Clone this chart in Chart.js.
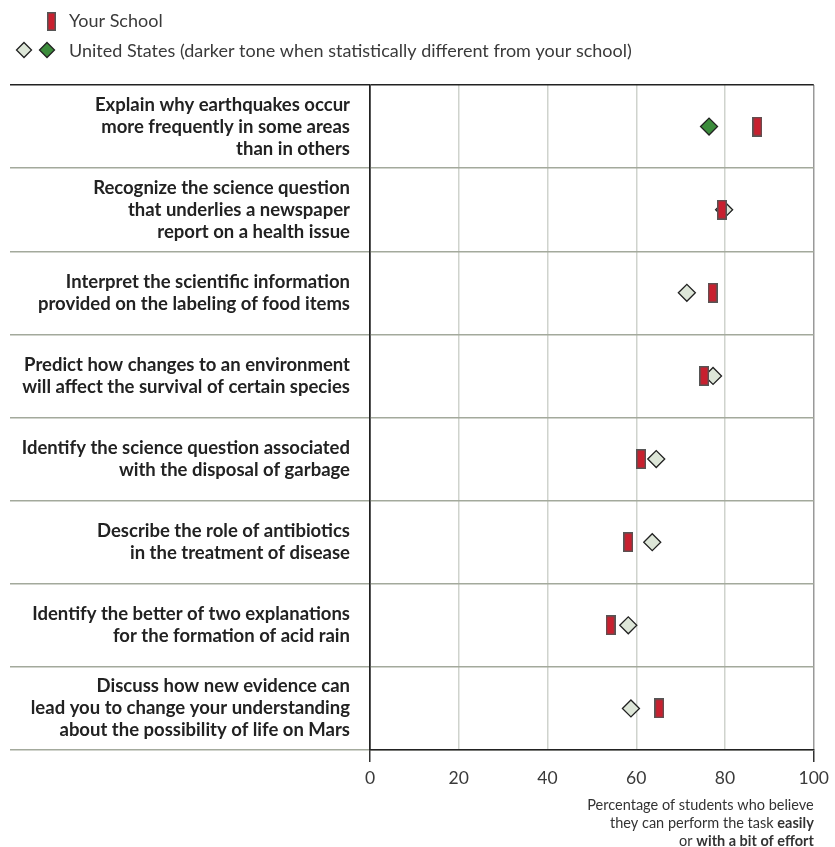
<!DOCTYPE html>
<html>
<head>
<meta charset="utf-8">
<script src="https://cdn.jsdelivr.net/npm/chart.js@4"></script>
<style>
  html, body { margin: 0; padding: 0; background: #fff; }
  #wrap { width: 835px; height: 847px; position: relative; }
</style>
</head>
<body>
<div id="wrap"><canvas id="chart"></canvas></div>
<script>
var tasks = [
    ["Explain why earthquakes occur", "more frequently in some areas", "than in others"],
    ["Recognize the science question", "that underlies a newspaper", "report on a health issue"],
    ["Interpret the scientific information", "provided on the labeling of food items"],
    ["Predict how changes to an environment", "will affect the survival of certain species"],
    ["Identify the science question associated", "with the disposal of garbage"],
    ["Describe the role of antibiotics", "in the treatment of disease"],
    ["Identify the better of two explanations", "for the formation of acid rain"],
    ["Discuss how new evidence can", "lead you to change your understanding", "about the possibility of life on Mars"]
];
var schoolValues = [87.3, 79.3, 77.2, 75.3, 61.1, 58.2, 54.2, 65.2];
var usValues = [76.4, 79.8, 71.4, 77.3, 64.5, 63.6, 58.2, 58.8];
var usDifferent = [true, false, false, false, false, false, false, false];
var xTicks = [0, 20, 40, 60, 80, 100];

var FONT = "Lato, 'Open Sans', sans-serif";
var RED = "#c8202f";
var LIGHT = "#dde6d8";
var DARK = "#3c8c3c";

// tall red bar used as the school marker
function makeBar() {
    var c = document.createElement('canvas');
    c.width = 10; c.height = 20;
    var g = c.getContext('2d');
    g.fillStyle = "#555";
    g.fillRect(0, 0, 10, 20);
    g.fillStyle = RED;
    g.fillRect(1.5, 1.5, 7, 17);
    return c;
}
var barImg = makeBar();

var labelKeys = tasks.map(function(t, i) { return 'c' + i; });

var schoolData = schoolValues.map(function(v, i) { return {x: v, y: labelKeys[i]}; });
var usData = usValues.map(function(v, i) { return {x: v, y: labelKeys[i]}; });

function diamond(ctx, x, y, r, fill) {
    ctx.beginPath();
    ctx.moveTo(x, y - r);
    ctx.lineTo(x + r, y);
    ctx.lineTo(x, y + r);
    ctx.lineTo(x - r, y);
    ctx.closePath();
    ctx.fillStyle = fill;
    ctx.fill();
    ctx.lineWidth = 1.3;
    ctx.strokeStyle = "#222";
    ctx.stroke();
}

var extras = {
    id: 'extras',
    afterDraw: function(chart) {
        var ctx = chart.ctx;
        ctx.save();
        // legend
        ctx.fillStyle = "#555";
        ctx.fillRect(47, 12, 9, 19);
        ctx.fillStyle = RED;
        ctx.fillRect(48.5, 13.5, 6, 16);
        diamond(ctx, 24, 50, 7.5, LIGHT);
        diamond(ctx, 47, 50, 7.5, DARK);
        ctx.fillStyle = "#3a3a3a";
        ctx.font = "18px " + FONT;
        ctx.textBaseline = "middle";
        ctx.textAlign = "left";
        ctx.fillText("Your School", 69, 21);
        ctx.fillText("United States (darker tone when statistically different from your school)", 69, 51);

        // axis title, right aligned with bold parts
        var right = chart.chartArea.right;
        var lines = [
            [["Percentage of students who believe", false]],
            [["they can perform the task ", false], ["easily", true]],
            [["or ", false], ["with a bit of effort", true]]
        ];
        ctx.textAlign = "left";
        lines.forEach(function(parts, li) {
            var y = 805 + li * 18;
            var w = 0;
            parts.forEach(function(p) {
                ctx.font = (p[1] ? "bold " : "") + "14.5px " + FONT;
                w += ctx.measureText(p[0]).width;
            });
            var x = right - w;
            parts.forEach(function(p) {
                ctx.font = (p[1] ? "bold " : "") + "14.5px " + FONT;
                ctx.fillStyle = "#333";
                ctx.fillText(p[0], x, y);
                x += ctx.measureText(p[0]).width;
            });
        });
        ctx.restore();
    }
};

var ctx = document.getElementById('chart').getContext('2d');
var chart = new Chart(ctx, {
    type: 'scatter',
    data: {
        datasets: [{
            label: 'Your School',
            data: schoolData,
            pointStyle: barImg,
            pointRadius: 10,
            pointHoverRadius: 10
        }, {
            label: 'United States',
            data: usData,
            pointStyle: 'rectRot',
            pointRadius: 8.5,
            pointHoverRadius: 8.5,
            borderWidth: 1.3,
            borderColor: "#222",
            backgroundColor: usDifferent.map(function(d) { return d ? DARK : LIGHT; })
        }]
    },
    options: {
        responsive: true,
        maintainAspectRatio: false,
        animation: false,
        layout: { padding: { top: 85, left: 10, right: 19, bottom: 0 } },
        plugins: {
            legend: { display: false },
            tooltip: { enabled: false }
        },
        scales: {
            x: {
                type: 'linear',
                min: 0,
                max: 100,
                afterBuildTicks: function(scale) {
                    scale.ticks = xTicks.map(function(v) { return {value: v}; });
                },
                grid: {
                    color: function(c) {
                        if (c.tick && c.tick.value === 0) return "#222";
                        if (c.tick && c.tick.value === 100) return "#999";
                        return "#cfd3cd";
                    },
                    lineWidth: 1.5,
                    tickLength: 12,
                    tickColor: function(c) {
                        if (c.tick && (c.tick.value === 0 || c.tick.value === 100)) return "#333";
                        return "rgba(0,0,0,0)";
                    }
                },
                border: { color: "#222", width: 1.5 },
                ticks: {
                    padding: 6,
                    color: "#3a3a3a",
                    font: { family: FONT, size: 17.5 }
                },
                afterFit: function(scale) { scale.height = 97; }
            },
            y: {
                type: 'category',
                labels: labelKeys,
                offset: true,
                grid: {
                    offset: true,
                    tickLength: 360,
                    lineWidth: 1.5,
                    color: function(c) {
                        if (c.index === 0 || c.index === tasks.length) return "#222";
                        return "#a3a99c";
                    }
                },
                border: { color: "#222", width: 1.5 },
                ticks: {
                    padding: -340,
                    color: "#222",
                    font: { family: FONT, size: 18.5, weight: 'bold', lineHeight: 1.19 },
                    callback: function(v, i) { return tasks[i]; }
                },
                afterFit: function(scale) { scale.width = 360; }
            }
        }
    },
    plugins: [extras]
});
</script>
</body>
</html>
